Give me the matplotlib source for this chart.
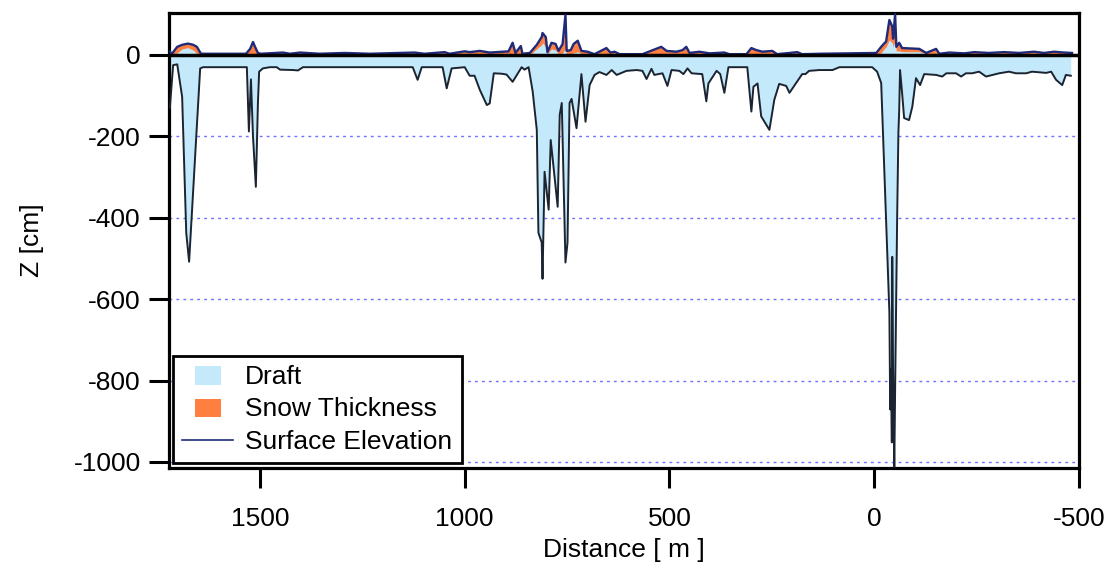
import numpy as np
import matplotlib
matplotlib.use("Agg")
import matplotlib.pyplot as plt
from matplotlib.patches import Patch, Rectangle
from matplotlib.lines import Line2D
from matplotlib.legend_handler import HandlerPatch

plt.rcParams['font.family'] = ['Liberation Sans', 'DejaVu Sans']
plt.rcParams['axes.unicode_minus'] = False

# draft profile (distance in m, z in cm)
draft_x = [1720, 1712, 1702, 1690, 1680, 1673, 1646, 1639, 1532, 1527, 1522, 1517, 1510, 1505,
           1502, 1493, 1476, 1459, 1451, 1419, 1407, 1395, 1127, 1115, 1105, 1054, 1044, 1032,
           1000, 988, 976, 963, 946, 939, 929, 910, 898, 883, 861, 854, 844, 834, 824, 820, 812,
           810, 805, 795, 790, 773, 768, 763, 754, 749, 744, 739, 727, 715, 705, 695, 683, 671,
           654, 641, 629, 605, 580, 566, 556, 544, 537, 517, 505, 495, 476, 466, 456, 446, 420,
           410, 405, 385, 376, 366, 356, 310, 300, 295, 285, 276, 256, 244, 232, 215, 207, 176,
           168, 159, 134, 102, 85, 5, -7, -17, -22, -37, -39, -41, -43, -44, -46, -49, -51, -56,
           -59, -61, -63, -68, -73, -85, -93, -102, -112, -122, -151, -166, -176, -200, -212,
           -224, -239, -256, -273, -305, -329, -346, -371, -385, -420, -432, -444, -459, -468,
           -480]
draft_z = [-130, -25, -23, -103, -437, -508, -33, -30, -30, -188, -60, -200, -324, -120,
           -41, -33, -30, -30, -36, -37, -38, -30, -30, -61, -30, -30, -82, -33,
           -30, -51, -51, -86, -123, -119, -45, -46, -48, -66, -30, -36, -30, -90, -184, -437, -461,
           -550, -287, -380, -209, -373, -147, -118, -510, -461, -118, -108, -180, -47, -164, -74, -49, -42,
           -49, -37, -49, -39, -37, -39, -59, -34, -49, -45, -76, -37, -39, -47, -33, -45, -47,
           -114, -70, -39, -47, -93, -30, -30, -139, -78, -70, -151, -184, -110, -71, -76, -93, -47,
           -47, -39, -37, -37, -30, -30, -41, -69, -209, -633, -871, -773, -952, -496, -780, -1013, -822, -397,
           -192, -135, -37, -93, -155, -160, -127, -57, -74, -47, -49, -53, -45, -45, -53,
           -45, -45, -41, -53, -45, -41, -45, -45, -41, -44, -41, -61, -74, -49,
           -51]

# surface elevation and ice freeboard (cm)
top_x = [1720, 1715, 1702, 1690, 1676, 1663, 1654, 1644, 1534, 1524, 1517, 1512, 1505, 1498,
         1444, 1427, 1402, 1354, 1293, 1232, 1122, 1098, 1049, 1037, 1000, 988, 963, 939, 907,
         893, 883, 876, 863, 859, 841, 824, 812, 810, 802, 798, 788, 778, 771, 761, 754, 751,
         741, 734, 724, 715, 700, 683, 654, 644, 634, 622, 566, 520, 507, 483, 468, 459, 451,
         427, 402, 366, 354, 312, 300, 288, 273, 249, 237, 207, 188, 176, 134, 61, -5, -17,
         -24, -29, -37, -44, -46, -51, -54, -61, -68, -110, -127, -151, -159, -183, -220, -244,
         -280, -317, -354, -390, -415, -439, -463, -483]
surface = [8, 3, 20, 25, 28, 25, 20, 3, 3, 15, 32, 20, 5, 3,
           6, 3, 6, 3, 5, 3, 6, 3, 7, 3, 9, 7, 10, 6, 8,
           9, 30, 5, 22, 3, 5, 25, 44, 54, 44, 7, 30, 27, 10, 27, 98, 10,
           12, 27, 35, 10, 8, 2, 17, 6, 8, 2, 2, 20, 10, 8, 12, 20, 5,
           8, 4, 6, 2, 2, 17, 12, 8, 10, 2, 5, 7, 2, 3, 4, 5, 20,
           28, 33, 86, 70, 40, 100, 20, 30, 17, 15, 5, 15, 3, 6, 4, 7,
           5, 7, 5, 8, 5, 8, 6, 5]
freeboard = [0, 0, 5, 15, 18, 12, 3, 0, 0, 0, 0, 0, 0, 0,
             0, 0, 0, 0, 0, 0, 0, 0, 0, 0, 0, 0, 0, 0, 0,
             0, 5, 0, 0, 0, 0, 15, 25, 30, 20, 3, 15, 12, 3, 5, 15, 3,
             3, 5, 8, 3, 0, 0, 0, 0, 0, 0, 0, 0, 0, 0, 0, 0, 0,
             0, 0, 0, 0, 0, 0, 0, 0, 0, 0, 0, 0, 0, 0, 0, 0, 5,
             15, 20, 37, 30, 20, 35, 10, 10, 8, 8, 3, 0, 0, 0, 0, 0,
             0, 0, 0, 0, 0, 0, 0, 0]

draft_x = np.array(draft_x); draft_z = np.array(draft_z)
top_x = np.array(top_x); surface = np.array(surface); freeboard = np.array(freeboard)

c_draft = "#c4e9fb"
c_snow = "#ff7f40"
c_surf = "#1f2a78"
fs = 19

fig = plt.figure(figsize=(11.07, 5.68), dpi=100)
ax = fig.add_axes([0.1527, 0.176, 0.822, 0.801])

for y in [-200, -400, -600, -800, -1000]:
    ax.axhline(y, color="#7070ff", lw=1, ls=(0, (2, 3)), zorder=0)

ax.fill_between(draft_x, 0, draft_z, color=c_draft, lw=0, zorder=1)
ax.fill_between(top_x, 0, surface, color=c_snow, lw=0, zorder=2)
ax.fill_between(top_x, 0, freeboard, color=c_draft, lw=0, zorder=3)
ax.plot(draft_x, draft_z, color="#1b2430", lw=1.4, zorder=4)
ax.plot(top_x, surface, color=c_surf, lw=1.7, zorder=5)
ax.axhline(0, color="black", lw=2.5, zorder=6)

ax.set_xlim(1722, -500)
ax.set_ylim(-1015, 103)
ax.set_xticks([1500, 1000, 500, 0, -500])
ax.set_yticks([0, -200, -400, -600, -800, -1000])
ax.tick_params(direction="out", length=14.4, width=2.2, labelsize=fs)
ax.tick_params(axis="x", pad=14)
ax.tick_params(axis="y", pad=6)
for s in ax.spines.values():
    s.set_linewidth(2.3)
ax.set_xlabel("Distance [ m ]", fontsize=fs, labelpad=5)
ax.set_ylabel("Z [cm]", fontsize=fs, labelpad=21)


def small_box(legend, orig_handle, xdescent, ydescent, width, height, fontsize):
    w = width * 0.5
    return Rectangle((-xdescent + (width - w) / 2, -ydescent - 0.1 * height), w, height * 1.1)


handles = [Patch(facecolor=c_draft, edgecolor="none", label="Draft"),
           Patch(facecolor=c_snow, edgecolor="none", label="Snow Thickness"),
           Line2D([], [], color=c_surf, lw=1.2, label="Surface Elevation")]
leg = ax.legend(handles=handles, loc="lower left", bbox_to_anchor=(0.004, 0.011),
                borderaxespad=0, fontsize=fs, fancybox=False, framealpha=1,
                edgecolor="black", handlelength=1.95, handleheight=0.6,
                labelspacing=0.32, borderpad=0.35, handletextpad=0.45,
                handler_map={Patch: HandlerPatch(patch_func=small_box)})
leg.get_frame().set_linewidth(2)
leg.set_zorder(10)

fig.savefig("out.png", dpi=100)
